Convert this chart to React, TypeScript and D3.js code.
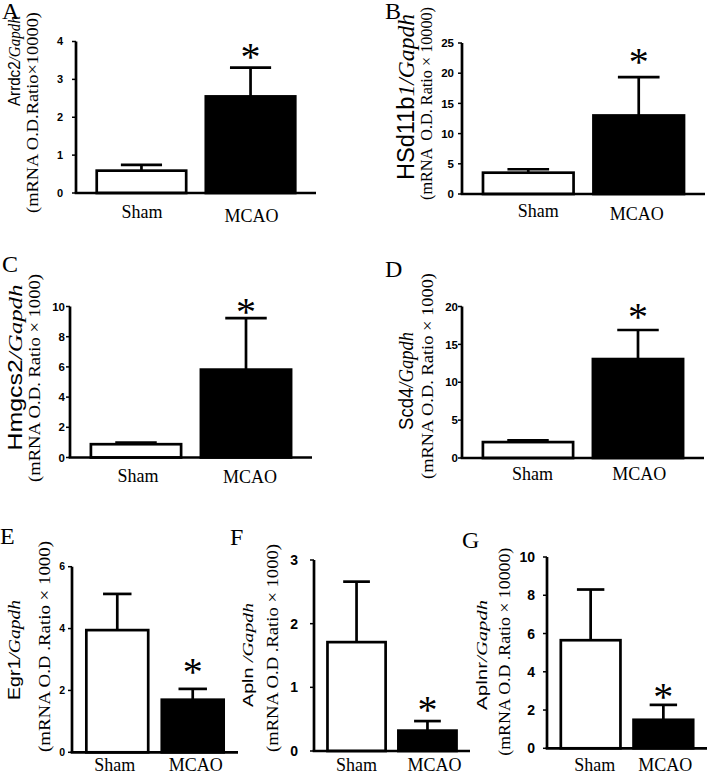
import React from "react";
import * as d3 from "d3";

// ---------- data ----------
const panelLetters = ["A", "B", "C", "D", "E", "F", "G"];
const categories = ["Sham", "MCAO"];
const geneSymbols = ["Arrdc2", "HSd11b", "Hmgcs2", "Scd4", "Egr1", "Apln ", "Aplnr"];
const geneItalics = ["/Gapdh", "1/Gapdh", "/Gapdh", "/Gapdh", "/Gapdh", "/Gapdh", "/Gapdh"];
const unitLabels = [
  "(mRNA O.D.Ratio\u00D710000)",
  "(mRNA  O.D. Ratio \u00D7 10000)",
  "(mRNA O.D. Ratio \u00D7 1000)",
  "(mRNA O.D. Ratio \u00D7 1000)",
  "(mRNA O.D .Ratio \u00D7 1000)",
  "(mRNA O.D .Ratio \u00D7 1000)",
  "(mRNA O.D .Ratio \u00D7 10000)",
];
const shamMeans = [0.59, 3.53, 0.88, 2.1, 3.95, 1.71, 5.65];
const shamSems = [0.15, 0.57, 0.11, 0.22, 1.17, 0.95, 2.65];
const mcaoMeans = [2.55, 13.0, 5.82, 13.06, 1.7, 0.32, 1.49];
const mcaoSems = [0.76, 6.35, 3.41, 3.84, 0.35, 0.15, 0.78];
const yMaxes = [4, 25, 10, 20, 6, 3, 10];
const yTickSteps = [1, 5, 2, 5, 2, 1, 2];

// ---------- layout ----------
type Layout = {
  axisX: number; endX: number; yTop: number; yBottom: number;
  tickFont: number; tickGap: number;
  l1x: number; l1y: number; l1len: number; l1font: number;
  l2x: number; l2y: number; l2len: number; l2font: number;
  letterX: number; letterY: number;
  catY: [number, number]; catDx: [number, number];
  starGap: number;
};
const layouts: Layout[] = [
  { axisX: 76, endX: 316, yTop: 41.5, yBottom: 193, tickFont: 11, tickGap: 13,
    l1x: 20, l1y: 61, l1len: 90, l1font: 16, l2x: 37.5, l2y: 112.5, l2len: 201, l2font: 17,
    letterX: 2, letterY: 19, catY: [218, 221.5], catDx: [0.5, 1], starGap: 16.6 },
  { axisX: 462, endX: 705, yTop: 43, yBottom: 194, tickFont: 11.5, tickGap: 8,
    l1x: 414, l1y: 97, l1len: 166, l1font: 23, l2x: 431.5, l2y: 103.5, l2len: 193, l2font: 17,
    letterX: 385, letterY: 19, catY: [216.5, 220], catDx: [10, -2], starGap: 20.6 },
  { axisX: 70, endX: 312, yTop: 306.5, yBottom: 457.5, tickFont: 11.5, tickGap: 5,
    l1x: 22.3, l1y: 367.5, l1len: 166, l1font: 19.5, l2x: 40, l2y: 378, l2len: 208, l2font: 17,
    letterX: 2, letterY: 272, catY: [481.5, 483], catDx: [2, 4], starGap: 11.6 },
  { axisX: 462, endX: 704, yTop: 306.5, yBottom: 458, tickFont: 11.5, tickGap: 4,
    l1x: 413.4, l1y: 381, l1len: 98, l1font: 21, l2x: 433.3, l2y: 376, l2len: 206, l2font: 17,
    letterX: 385, letterY: 277, catY: [480, 480], catDx: [4.5, 1.3], starGap: 18.3 },
  { axisX: 72, endX: 238, yTop: 566.7, yBottom: 752.3, tickFont: 10.5, tickGap: 7,
    l1x: 19.8, l1y: 650, l1len: 100, l1font: 16, l2x: 50, l2y: 646.5, l2len: 211, l2font: 17,
    letterX: 0, letterY: 544, catY: [771, 771], catDx: [-2.5, 3], starGap: 22.6 },
  { axisX: 314, endX: 470, yTop: 560, yBottom: 751, tickFont: 14, tickGap: 16,
    l1x: 253.3, l1y: 655, l1len: 104, l1font: 14, l2x: 278.3, l2y: 648, l2len: 208, l2font: 17,
    letterX: 230, letterY: 545, catY: [771, 771], catDx: [0, 7], starGap: 16.7 },
  { axisX: 547, endX: 707, yTop: 557, yBottom: 748.3, tickFont: 14, tickGap: 12,
    l1x: 486.7, l1y: 655, l1len: 110, l1font: 14, l2x: 510, l2y: 651.7, l2len: 208, l2font: 17,
    letterX: 462, letterY: 548, catY: [771, 771], catDx: [4, 2], starGap: 14 },
];

const SANS = "'Liberation Sans', Arial, sans-serif";
const SERIF = "'Liberation Serif', 'Times New Roman', serif";
const SW = 2.7;

function Panel({ i }: { i: number }) {
  const L = layouts[i];
  const y = d3.scaleLinear().domain([0, yMaxes[i]]).range([L.yBottom, L.yTop]);
  const x = d3.scaleBand<string>().domain(categories).range([L.axisX, L.endX])
    .paddingInner(0.18).paddingOuter(0.19);
  const bw = x.bandwidth();
  const ticks = d3.range(0, yMaxes[i] + 1e-9, yTickSteps[i]);
  const means = [shamMeans[i], mcaoMeans[i]];
  const sems = [shamSems[i], mcaoSems[i]];
  const cap = bw * 0.23;
  const mc = (x("MCAO") as number) + bw / 2;
  const starCenter = y(mcaoMeans[i] + mcaoSems[i]) - L.starGap;
  const starFont = 40;
  return (
    <g>
      <text x={L.letterX} y={L.letterY} fontFamily={SERIF} fontSize={24}>{panelLetters[i]}</text>
      <text transform={`translate(${L.l1x},${L.l1y}) rotate(-90)`} textAnchor="middle"
        textLength={L.l1len} lengthAdjust="spacingAndGlyphs" fontSize={L.l1font}>
        <tspan fontFamily={SANS}>{geneSymbols[i]}</tspan>
        <tspan fontFamily={SERIF} fontStyle="italic">{geneItalics[i]}</tspan>
      </text>
      <text transform={`translate(${L.l2x},${L.l2y}) rotate(-90)`} textAnchor="middle"
        textLength={L.l2len} lengthAdjust="spacingAndGlyphs" fontSize={L.l2font}
        fontFamily={SERIF} style={{ whiteSpace: "pre" }}>
        {unitLabels[i]}
      </text>
      {categories.map((c, k) => (
        <g key={c}>
          <line x1={(x(c) as number) + bw / 2} x2={(x(c) as number) + bw / 2}
            y1={y(means[k])} y2={y(means[k] + sems[k])} stroke="#000" strokeWidth={SW} />
          <line x1={(x(c) as number) + bw / 2 - cap} x2={(x(c) as number) + bw / 2 + cap}
            y1={y(means[k] + sems[k])} y2={y(means[k] + sems[k])} stroke="#000" strokeWidth={SW} />
          <rect x={x(c)} y={y(means[k])} width={bw} height={y(0) - y(means[k])}
            fill={k === 0 ? "#fff" : "#000"} stroke="#000" strokeWidth={SW} />
        </g>
      ))}
      <line x1={L.axisX} x2={L.axisX} y1={L.yTop} y2={L.yBottom} stroke="#000" strokeWidth={SW} />
      <line x1={L.axisX - SW / 2} x2={L.endX} y1={L.yBottom} y2={L.yBottom} stroke="#000" strokeWidth={SW} />
      {ticks.map((t) => (
        <g key={t}>
          <line x1={L.axisX - 4} x2={L.axisX} y1={y(t)} y2={y(t)} stroke="#000" strokeWidth={1.5} />
          <text x={L.axisX - L.tickGap} y={y(t)} dy="0.36em" textAnchor="end"
            fontFamily={SANS} fontWeight="bold" fontSize={L.tickFont}>{t}</text>
        </g>
      ))}
      {categories.map((c, k) => (
        <text key={c} x={(x(c) as number) + bw / 2 + L.catDx[k]} y={L.catY[k]} textAnchor="middle"
          fontFamily={SERIF} fontSize={18}>{c}</text>
      ))}
      <text x={mc} y={starCenter + starFont * 0.47} textAnchor="middle" fontFamily={SERIF}
        fontSize={starFont}>*</text>
    </g>
  );
}

export default function App() {
  return (
    <svg width={708} height={773} style={{ position: "absolute", left: 0, top: 0, background: "#fff" }}>
      <rect width={708} height={773} fill="#fff" />
      {layouts.map((_, i) => <Panel key={i} i={i} />)}
    </svg>
  );
}
